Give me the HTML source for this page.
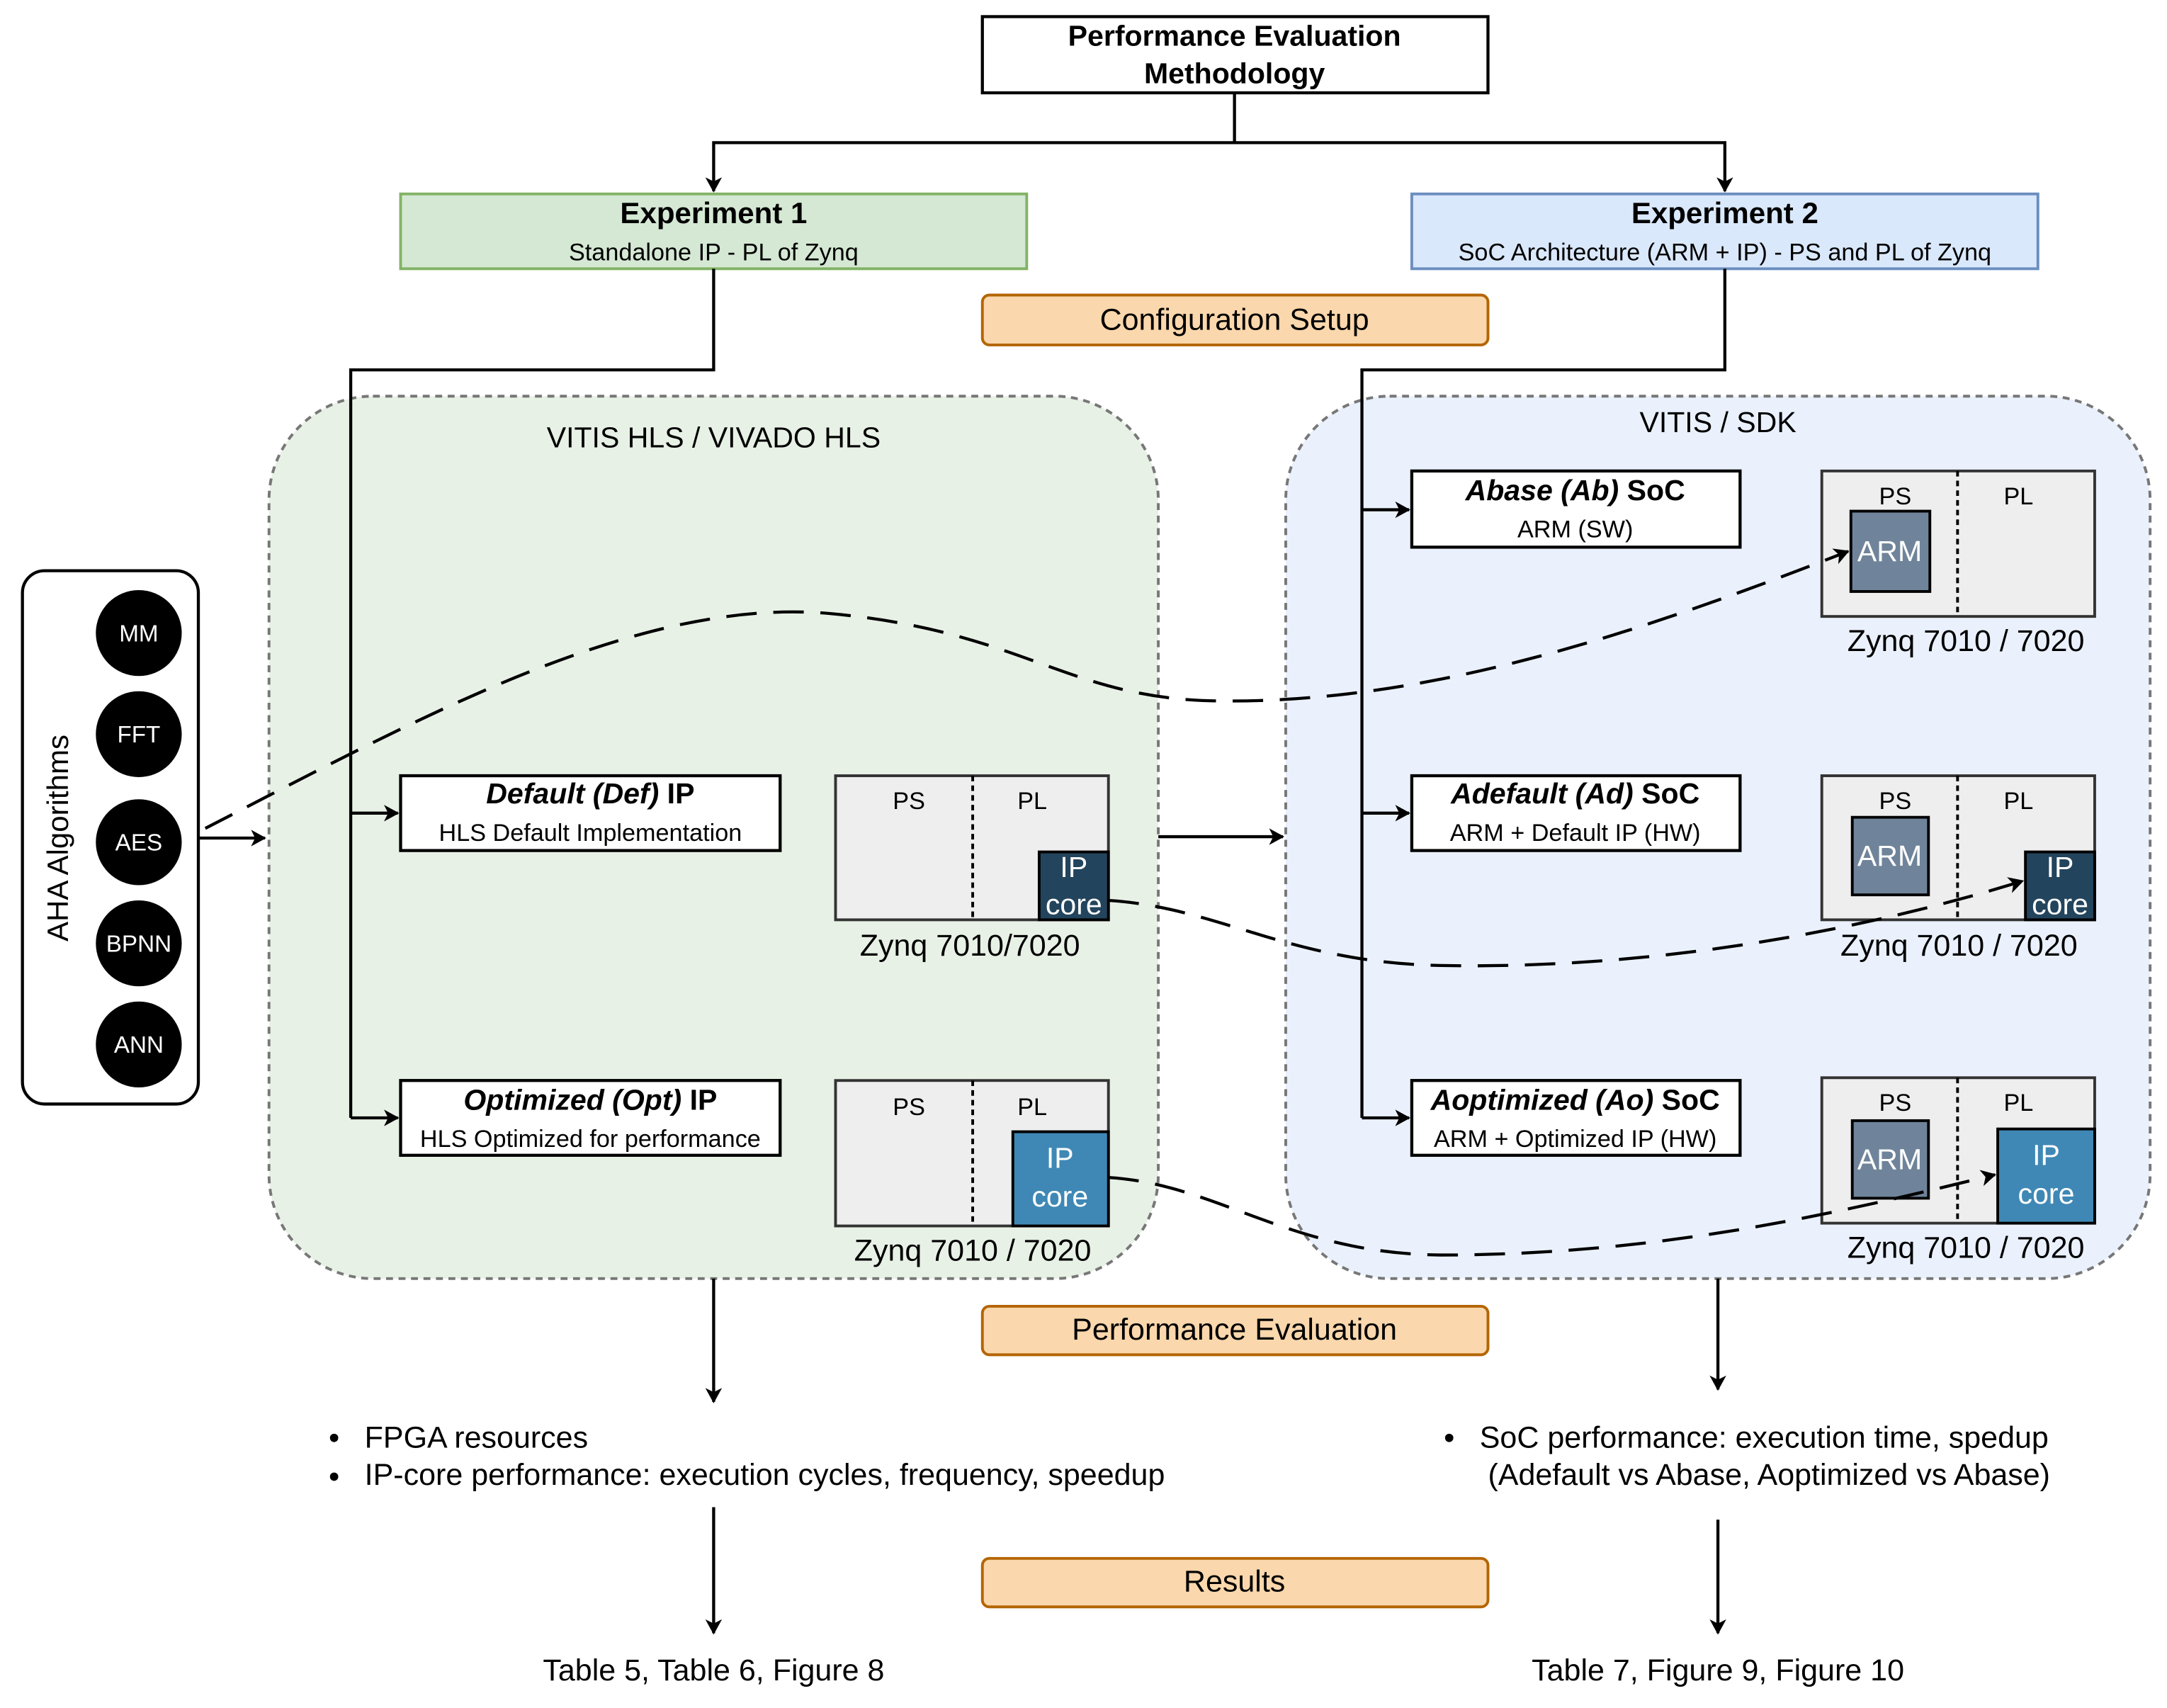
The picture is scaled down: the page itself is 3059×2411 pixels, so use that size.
<!DOCTYPE html>
<html><head><meta charset="utf-8"><style>
html,body{margin:0;padding:0;background:#fff;}
svg{display:block;}
text{font-family:"Liberation Sans",Arial,sans-serif;fill:#000;}
</style></head><body>
<svg width="3059" height="2411" viewBox="0 0 1564 1233" xmlns="http://www.w3.org/2000/svg">
<defs>
<marker id="ar" markerWidth="12" markerHeight="12" refX="10" refY="6" orient="auto" markerUnits="userSpaceOnUse">
<path d="M0,0 L11,6 L0,12 L3,6 Z" fill="#000"/>
</marker>
</defs>
<rect width="1564" height="1233" fill="#fff"/>

<rect x="194" y="286" width="642" height="637" rx="75" fill="#e8f1e6" stroke="#777" stroke-width="2" stroke-dasharray="5,4"/>
<rect x="928" y="286" width="624" height="637" rx="75" fill="#eaf1fc" stroke="#777" stroke-width="2" stroke-dasharray="5,4"/>
<text x="515" y="323" font-size="21" text-anchor="middle">VITIS HLS / VIVADO HLS</text>
<text x="1240" y="312" font-size="21" text-anchor="middle">VITIS / SDK</text>

<rect x="709" y="12" width="365" height="55" fill="#fff" stroke="#000" stroke-width="2.2"/>
<text x="891" y="33" font-size="21" font-weight="bold" text-anchor="middle">Performance Evaluation</text>
<text x="891" y="60" font-size="21" font-weight="bold" text-anchor="middle">Methodology</text>
<path d="M891,67 V103 H515 V138" fill="none" stroke="#000" stroke-width="2.2" marker-end="url(#ar)"/>
<path d="M891,103 H1245 V138" fill="none" stroke="#000" stroke-width="2.2" marker-end="url(#ar)"/>

<rect x="289" y="140" width="452" height="54" fill="#d5e8d4" stroke="#82b366" stroke-width="2"/>
<text x="515" y="161" font-size="21.5" font-weight="bold" text-anchor="middle">Experiment 1</text>
<text x="515" y="188" font-size="17.5" text-anchor="middle">Standalone IP - PL of Zynq</text>
<rect x="1019" y="140" width="452" height="54" fill="#dae8fc" stroke="#6c8ebf" stroke-width="2"/>
<text x="1245" y="161" font-size="21.5" font-weight="bold" text-anchor="middle">Experiment 2</text>
<text x="1245" y="188" font-size="17.5" text-anchor="middle">SoC Architecture (ARM + IP) - PS and PL of Zynq</text>

<rect x="709" y="213" width="365" height="36" rx="5" fill="#fad7ac" stroke="#b46504" stroke-width="2"/>
<text x="891" y="238" font-size="22" text-anchor="middle">Configuration Setup</text>

<path d="M515,194 V267 H253 V807" fill="none" stroke="#000" stroke-width="2.2"/>
<path d="M253,587 H287" fill="none" stroke="#000" stroke-width="2.2" marker-end="url(#ar)"/>
<path d="M253,807 H287" fill="none" stroke="#000" stroke-width="2.2" marker-end="url(#ar)"/>
<path d="M1245,194 V267 H983 V807" fill="none" stroke="#000" stroke-width="2.2"/>
<path d="M983,368 H1017" fill="none" stroke="#000" stroke-width="2.2" marker-end="url(#ar)"/>
<path d="M983,587 H1017" fill="none" stroke="#000" stroke-width="2.2" marker-end="url(#ar)"/>
<path d="M983,807 H1017" fill="none" stroke="#000" stroke-width="2.2" marker-end="url(#ar)"/>

<rect x="16" y="412" width="127" height="385" rx="16" fill="#fff" stroke="#000" stroke-width="2.2"/>
<text x="0" y="0" font-size="21.5" text-anchor="middle" transform="translate(49,605) rotate(-90)">AHA Algorithms</text>
<g font-size="17" text-anchor="middle">
<circle cx="100" cy="457" r="31" fill="#000"/><text x="100" y="463" style="fill:#fff">MM</text>
<circle cx="100" cy="530" r="31" fill="#000"/><text x="100" y="536" style="fill:#fff">FFT</text>
<circle cx="100" cy="608" r="31" fill="#000"/><text x="100" y="614" style="fill:#fff">AES</text>
<circle cx="100" cy="681" r="31" fill="#000"/><text x="100" y="687" style="fill:#fff">BPNN</text>
<circle cx="100" cy="754" r="31" fill="#000"/><text x="100" y="760" style="fill:#fff">ANN</text>
</g>
<path d="M143,605 H191" fill="none" stroke="#000" stroke-width="2.2" marker-end="url(#ar)"/>

<rect x="289" y="560" width="274" height="54" fill="#fff" stroke="#000" stroke-width="2.2"/>
<text x="426" y="580" font-size="21" font-weight="bold" text-anchor="middle"><tspan font-style="italic">Default (Def)</tspan> IP</text>
<text x="426" y="607" font-size="17.5" text-anchor="middle">HLS Default Implementation</text>
<rect x="289" y="780" width="274" height="54" fill="#fff" stroke="#000" stroke-width="2.2"/>
<text x="426" y="801" font-size="21" font-weight="bold" text-anchor="middle"><tspan font-style="italic">Optimized (Opt)</tspan> IP</text>
<text x="426" y="828" font-size="17.5" text-anchor="middle">HLS Optimized for performance</text>

<rect x="603" y="560" width="197" height="104" fill="#eeeeee" stroke="#333" stroke-width="2"/>
<line x1="702" y1="560" x2="702" y2="664" stroke="#000" stroke-width="2" stroke-dasharray="4,3"/>
<text x="656" y="584" font-size="17.5" text-anchor="middle">PS</text>
<text x="745" y="584" font-size="17.5" text-anchor="middle">PL</text>
<rect x="750" y="615" width="50" height="49" fill="#23445d" stroke="#000" stroke-width="2"/>
<text x="775" y="633" font-size="21" text-anchor="middle" style="fill:#fff">IP</text>
<text x="775" y="660" font-size="21" text-anchor="middle" style="fill:#fff">core</text>
<text x="700" y="690" font-size="22" text-anchor="middle">Zynq 7010/7020</text>

<rect x="603" y="780" width="197" height="105" fill="#eeeeee" stroke="#333" stroke-width="2"/>
<line x1="702" y1="780" x2="702" y2="885" stroke="#000" stroke-width="2" stroke-dasharray="4,3"/>
<text x="656" y="805" font-size="17.5" text-anchor="middle">PS</text>
<text x="745" y="805" font-size="17.5" text-anchor="middle">PL</text>
<rect x="731" y="817" width="69" height="68" fill="#3f88b5" stroke="#000" stroke-width="2"/>
<text x="765" y="843" font-size="21" text-anchor="middle" style="fill:#fff">IP</text>
<text x="765" y="871" font-size="21" text-anchor="middle" style="fill:#fff">core</text>
<text x="702" y="910" font-size="22" text-anchor="middle">Zynq 7010 / 7020</text>

<path d="M836,604 H926" fill="none" stroke="#000" stroke-width="2.2" marker-end="url(#ar)"/>

<rect x="1019" y="340" width="237" height="55" fill="#fff" stroke="#000" stroke-width="2.2"/>
<text x="1137" y="361" font-size="21" font-weight="bold" text-anchor="middle"><tspan font-style="italic">Abase (Ab)</tspan> SoC</text>
<text x="1137" y="388" font-size="17.5" text-anchor="middle">ARM (SW)</text>
<rect x="1019" y="560" width="237" height="54" fill="#fff" stroke="#000" stroke-width="2.2"/>
<text x="1137" y="580" font-size="21" font-weight="bold" text-anchor="middle"><tspan font-style="italic">Adefault (Ad)</tspan> SoC</text>
<text x="1137" y="607" font-size="17.5" text-anchor="middle">ARM + Default IP (HW)</text>
<rect x="1019" y="780" width="237" height="54" fill="#fff" stroke="#000" stroke-width="2.2"/>
<text x="1137" y="801" font-size="21" font-weight="bold" text-anchor="middle"><tspan font-style="italic">Aoptimized (Ao)</tspan> SoC</text>
<text x="1137" y="828" font-size="17.5" text-anchor="middle">ARM + Optimized IP (HW)</text>

<g>
<rect x="1315" y="340" width="197" height="105" fill="#eeeeee" stroke="#333" stroke-width="2"/>
<line x1="1413" y1="340" x2="1413" y2="445" stroke="#000" stroke-width="2" stroke-dasharray="4,3"/>
<text x="1368" y="364" font-size="17.5" text-anchor="middle">PS</text>
<text x="1457" y="364" font-size="17.5" text-anchor="middle">PL</text>
<rect x="1336" y="369" width="57" height="58" fill="#6f849a" stroke="#000" stroke-width="2"/>
<text x="1364" y="405" font-size="21" text-anchor="middle" style="fill:#fff">ARM</text>
<text x="1419" y="470" font-size="22" text-anchor="middle">Zynq 7010 / 7020</text>
</g>
<g>
<rect x="1315" y="560" width="197" height="104" fill="#eeeeee" stroke="#333" stroke-width="2"/>
<line x1="1413" y1="560" x2="1413" y2="664" stroke="#000" stroke-width="2" stroke-dasharray="4,3"/>
<text x="1368" y="584" font-size="17.5" text-anchor="middle">PS</text>
<text x="1457" y="584" font-size="17.5" text-anchor="middle">PL</text>
<rect x="1337" y="590" width="55" height="56" fill="#6f849a" stroke="#000" stroke-width="2"/>
<text x="1364" y="625" font-size="21" text-anchor="middle" style="fill:#fff">ARM</text>
<rect x="1462" y="615" width="50" height="49" fill="#23445d" stroke="#000" stroke-width="2"/>
<text x="1487" y="633" font-size="21" text-anchor="middle" style="fill:#fff">IP</text>
<text x="1487" y="660" font-size="21" text-anchor="middle" style="fill:#fff">core</text>
<text x="1414" y="690" font-size="22" text-anchor="middle">Zynq 7010 / 7020</text>
</g>
<g>
<rect x="1315" y="778" width="197" height="105" fill="#eeeeee" stroke="#333" stroke-width="2"/>
<line x1="1413" y1="778" x2="1413" y2="883" stroke="#000" stroke-width="2" stroke-dasharray="4,3"/>
<text x="1368" y="802" font-size="17.5" text-anchor="middle">PS</text>
<text x="1457" y="802" font-size="17.5" text-anchor="middle">PL</text>
<rect x="1337" y="809" width="55" height="56" fill="#6f849a" stroke="#000" stroke-width="2"/>
<text x="1364" y="844" font-size="21" text-anchor="middle" style="fill:#fff">ARM</text>
<rect x="1442" y="815" width="70" height="68" fill="#3f88b5" stroke="#000" stroke-width="2"/>
<text x="1477" y="841" font-size="21" text-anchor="middle" style="fill:#fff">IP</text>
<text x="1477" y="869" font-size="21" text-anchor="middle" style="fill:#fff">core</text>
<text x="1419" y="908" font-size="22" text-anchor="middle">Zynq 7010 / 7020</text>
</g>

<g fill="none" stroke="#000" stroke-width="2.2" stroke-dasharray="22,12">
<path d="M148,598 C300,520 460,430 600,443 C740,456 770,505 880,506 C1040,508 1200,450 1334,398" marker-end="url(#ar)"/>
<path d="M800,650 C880,655 930,695 1040,697 C1200,700 1350,670 1460,636" marker-end="url(#ar)"/>
<path d="M800,850 C880,855 930,905 1040,906 C1200,906 1330,875 1440,848" marker-end="url(#ar)"/>
</g>

<rect x="709" y="943" width="365" height="35" rx="5" fill="#fad7ac" stroke="#b46504" stroke-width="2"/>
<text x="891" y="967" font-size="22" text-anchor="middle">Performance Evaluation</text>
<path d="M515,923 V1012" fill="none" stroke="#000" stroke-width="2.2" marker-end="url(#ar)"/>
<path d="M1240,923 V1003" fill="none" stroke="#000" stroke-width="2.2" marker-end="url(#ar)"/>

<circle cx="241" cy="1038" r="3" fill="#000"/>
<text x="263" y="1045" font-size="22">FPGA resources</text>
<circle cx="241" cy="1066" r="3" fill="#000"/>
<text x="263" y="1072" font-size="22">IP-core performance: execution cycles, frequency, speedup</text>
<circle cx="1046" cy="1038" r="3" fill="#000"/>
<text x="1068" y="1045" font-size="22">SoC performance: execution time, spedup</text>
<text x="1074" y="1072" font-size="22">(Adefault vs Abase, Aoptimized vs Abase)</text>

<path d="M515,1088 V1179" fill="none" stroke="#000" stroke-width="2.2" marker-end="url(#ar)"/>
<path d="M1240,1097 V1179" fill="none" stroke="#000" stroke-width="2.2" marker-end="url(#ar)"/>
<rect x="709" y="1125" width="365" height="35" rx="5" fill="#fad7ac" stroke="#b46504" stroke-width="2"/>
<text x="891" y="1149" font-size="22" text-anchor="middle">Results</text>
<text x="515" y="1213" font-size="22" text-anchor="middle">Table 5, Table 6, Figure 8</text>
<text x="1240" y="1213" font-size="22" text-anchor="middle">Table 7, Figure 9, Figure 10</text>
</svg>
</body></html>
